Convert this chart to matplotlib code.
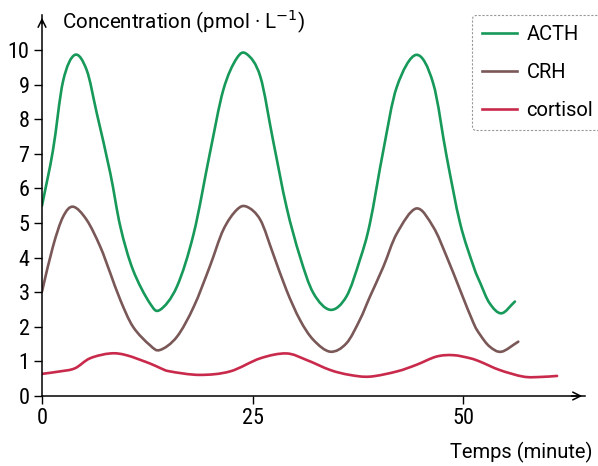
import matplotlib
matplotlib.use("Agg")
import matplotlib.pyplot as plt
from matplotlib import font_manager
from matplotlib.path import Path
from matplotlib.patches import PathPatch
from matplotlib.lines import Line2D

# ---- data ----
acth_t = [0.0, 1.3, 2.5, 3.9, 5.3, 6.5, 8.1, 9.3, 10.8, 12.8, 14.0, 16.0, 18.0, 19.9, 21.5,
          23.1, 24.3, 25.9, 27.4, 29.0, 30.6, 32.2, 34.2, 36.1, 37.7, 38.9, 40.5, 42.1, 44.4,
          46.4, 48.0, 49.6, 51.2, 52.0, 53.1, 54.5, 56.1]
acth_v = [5.5, 7.1, 9.1, 9.86, 9.42, 8.17, 6.44, 4.89, 3.64, 2.68, 2.49, 3.16, 4.7, 7.0, 8.84,
          9.76, 9.88, 9.23, 7.4, 5.47, 4.03, 2.97, 2.49, 2.87, 3.93, 4.99, 7.11, 8.94, 9.86,
          9.04, 6.92, 4.99, 3.74, 3.26, 2.68, 2.39, 2.73]

crh_t = [0.0, 1.3, 2.5, 3.7, 5.3, 6.9, 8.1, 9.3, 10.8, 12.8, 14.0, 16.0, 18.0, 19.9, 21.5,
         23.1, 24.3, 25.9, 27.4, 29.0, 30.6, 32.2, 34.2, 36.1, 37.7, 38.9, 40.5, 42.1, 44.4,
         46.4, 48.0, 49.6, 51.2, 52.0, 53.1, 54.5, 56.5]
crh_v = [3.02, 4.32, 5.18, 5.47, 5.09, 4.32, 3.55, 2.77, 2.0, 1.47, 1.33, 1.71, 2.58, 3.74, 4.8,
         5.38, 5.47, 5.09, 4.12, 3.06, 2.2, 1.62, 1.28, 1.52, 2.2, 2.87, 3.74, 4.7, 5.42,
         4.89, 4.03, 3.06, 2.1, 1.76, 1.43, 1.28, 1.57]

cort_t = [0.0, 2.1, 3.9, 5.7, 8.1, 10.0, 12.8, 14.0, 15.2, 18.7, 22.3, 25.9, 29.0, 31.4, 34.2,
          36.5, 38.9, 42.1, 44.4, 46.8, 48.8, 50.8, 52.0, 54.3, 57.1, 59.1, 61.1]
cort_v = [0.64, 0.71, 0.8, 1.09, 1.23, 1.18, 0.94, 0.81, 0.71, 0.61, 0.71, 1.09, 1.23, 1.04, 0.75,
          0.61, 0.56, 0.71, 0.9, 1.14, 1.18, 1.09, 0.99, 0.75, 0.56, 0.55, 0.58]

series_names = ["ACTH", "CRH", "cortisol"]
x_ticks = [0, 25, 50]
y_ticks = list(range(0, 11))

# ---- fonts ----
avail = {f.name for f in font_manager.fontManager.ttflist}
TEXT_FAM = ["Roboto", "DejaVu Sans"] if "Roboto" in avail else ["DejaVu Sans"]
TICK_FAM = ["Roboto Condensed", "DejaVu Sans"] if "Roboto Condensed" in avail else TEXT_FAM
plt.rcParams["font.family"] = TEXT_FAM

W, H = 598, 466
fig = plt.figure(figsize=(W / 100, H / 100), dpi=100)
ax = fig.add_axes([42 / W, 1 - 396 / H, (585 - 42) / W, (396 - 15) / H])


def smooth_path(xs, ys):
    """Smooth (Catmull-Rom style) Bezier path through the given points."""
    n = len(xs)
    verts = [(xs[0], ys[0])]
    codes = [Path.MOVETO]
    for i in range(n - 1):
        i0 = max(i - 1, 0)
        i3 = min(i + 2, n - 1)
        dx1 = (xs[i + 1] - xs[i0]) / 6.0 * (2 if i0 == i else 1)
        dy1 = (ys[i + 1] - ys[i0]) / 6.0 * (2 if i0 == i else 1)
        dx2 = (xs[i3] - xs[i]) / 6.0 * (2 if i3 == i + 1 else 1)
        dy2 = (ys[i3] - ys[i]) / 6.0 * (2 if i3 == i + 1 else 1)
        verts += [(xs[i] + dx1, ys[i] + dy1), (xs[i + 1] - dx2, ys[i + 1] - dy2),
                  (xs[i + 1], ys[i + 1])]
        codes += [Path.CURVE4] * 3
    return Path(verts, codes)


colors = ["#17995a", "#7a5858", "#c92a4c"]
LW = 1.9
for (xs, ys), c in zip([(acth_t, acth_v), (crh_t, crh_v), (cort_t, cort_v)], colors):
    ax.add_patch(PathPatch(smooth_path(xs, ys), facecolor="none", edgecolor=c, lw=LW,
                           capstyle="round", joinstyle="round"))

ax.set_xlim(0, (585 - 42) / 8.43)
ax.set_ylim(0, (396 - 15) / 34.6)
ax.set_xticks(x_ticks)
ax.set_yticks(y_ticks)
ax.tick_params(axis="both", direction="out", length=6, width=1, labelsize=16, pad=3)
for lab in ax.get_xticklabels() + ax.get_yticklabels():
    lab.set_family(TICK_FAM)
for s in ["top", "right"]:
    ax.spines[s].set_visible(False)
for s in ["left", "bottom"]:
    ax.spines[s].set_linewidth(1.1)

# axis arrows
ax.annotate("", xy=(1.0, 0), xytext=(0.97, 0), xycoords="axes fraction",
            arrowprops=dict(arrowstyle="->", lw=1.1, color="black", mutation_scale=14))
ax.annotate("", xy=(0, 1.0), xytext=(0, 0.97), xycoords="axes fraction",
            arrowprops=dict(arrowstyle="->", lw=1.1, color="black", mutation_scale=14))

fig.text(62 / W, 1 - 21 / H, "Concentration (pmol · L$^{-1}$)", fontsize=14.8,
         ha="left", va="center")
fig.text(592 / W, 1 - 452 / H, "Temps (minute)", fontsize=14.5, ha="right", va="center")

handles = [Line2D([], [], color=c, lw=LW) for c in colors]
leg = ax.legend(handles, series_names, loc="upper left", bbox_to_anchor=(472 / W, 1 - 15 / H),
                bbox_transform=fig.transFigure, fontsize=14.5, frameon=True,
                handlelength=1.75, handletextpad=0.45, labelspacing=0.95,
                borderpad=0.5, borderaxespad=0, fancybox=True)
frame = leg.get_frame()
frame.set_edgecolor("#999999")
frame.set_linestyle((0, (2, 1.5)))
frame.set_linewidth(0.8)
frame.set_facecolor("white")
frame.set_alpha(1)

fig.savefig("out.png", dpi=100)
